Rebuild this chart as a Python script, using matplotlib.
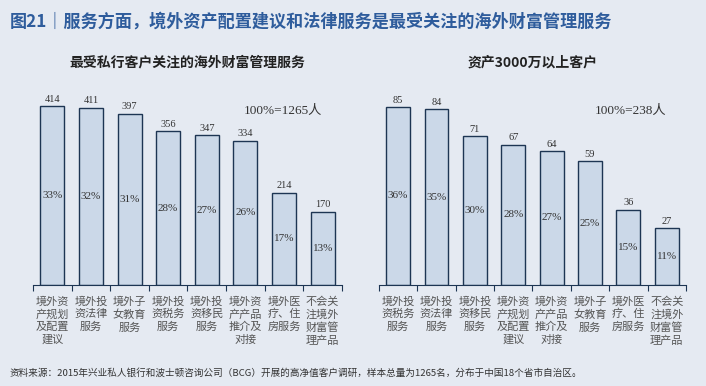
import matplotlib
matplotlib.use("agg")
import matplotlib.pyplot as plt

plt.rcParams['font.family'] = ['Noto Sans CJK SC', 'DejaVu Sans']

# data
left_cats = ["境外资产规划及配置建议", "境外投资法律服务", "境外子女教育服务", "境外投资税务服务",
             "境外投资移民服务", "境外资产产品推介及对接", "境外医疗、住房服务", "不会关注境外财富管理产品"]
left_vals = [414, 411, 397, 356, 347, 334, 214, 170]
left_pct = [33, 32, 31, 28, 27, 26, 17, 13]

right_cats = ["境外投资税务服务", "境外投资法律服务", "境外投资移民服务", "境外资产规划及配置建议",
              "境外资产产品推介及对接", "境外子女教育服务", "境外医疗、住房服务", "不会关注境外财富管理产品"]
right_vals = [85, 84, 71, 67, 64, 59, 36, 27]
right_pct = [36, 35, 30, 28, 27, 25, 15, 11]

bg = "#e5eaf2"
bar_fc = "#cbd8e8"
edge = "#1d3553"
serif = ['Liberation Serif', 'Noto Sans CJK SC']


def wrap(s, n=3):
    return "\n".join(s[i:i + n] for i in range(0, len(s), n))


def panel(ax, cats, vals, pct, ymax, sub, total):
    ax.set_facecolor(bg)
    x = list(range(len(vals)))
    ax.bar(x, vals, width=0.62, color=bar_fc, edgecolor=edge, linewidth=1.0)
    for xi, v, p in zip(x, vals, pct):
        ax.text(xi, v + ymax * 0.012, str(v), ha='center', va='bottom', fontsize=7.5,
                family=serif, color="#333333")
        ax.text(xi, v / 2, f"{p}%", ha='center', va='center', fontsize=8,
                family=serif, color="#333333")
    ax.set_xlim(-0.5, len(vals) - 0.5)
    ax.set_ylim(0, ymax)
    for s in ['top', 'right', 'left']:
        ax.spines[s].set_visible(False)
    ax.spines['bottom'].set_color(edge)
    ax.set_yticks([])
    ax.set_xticks([i - 0.5 for i in range(len(vals) + 1)])
    ax.set_xticklabels([])
    ax.tick_params(axis='x', which='major', direction='out', length=4, color=edge)
    ax.set_xticks(x, minor=True)
    ax.set_xticklabels([wrap(c) for c in cats], minor=True, fontsize=8,
                       color="#555555", linespacing=1.3, va='top')
    ax.tick_params(axis='x', which='minor', length=0, pad=8)
    ax.text(0.5, 1.135, sub, transform=ax.transAxes, ha='center', va='bottom',
            fontsize=10, fontweight='bold', color="#222222")
    ax.text(0.935, 0.915, total, transform=ax.transAxes, ha='right', va='center',
            fontsize=9.5, family=serif, color="#333333")


fig = plt.figure(figsize=(7.06, 3.86), dpi=100)
fig.patch.set_facecolor(bg)

ax1 = fig.add_axes([0.0467, 0.2617, 0.4377, 0.4922])
ax2 = fig.add_axes([0.5368, 0.2617, 0.4348, 0.4922])

panel(ax1, left_cats, left_vals, left_pct, 440, "最受私行客户关注的海外财富管理服务", "100%=1265人")
panel(ax2, right_cats, right_vals, right_pct, 90.7, "资产3000万以上客户", "100%=238人")

fig.text(0.014, 0.945, "图21｜服务方面，境外资产配置建议和法律服务是最受关注的海外财富管理服务",
         fontsize=12.3, fontweight='bold', color="#2e5c9c", va='center', ha='left')
fig.text(0.014, 0.035,
         "资料来源：2015年兴业私人银行和波士顿咨询公司（BCG）开展的高净值客户调研，样本总量为1265名，分布于中国18个省市自治区。",
         fontsize=6.9, color="#333333", va='center', ha='left')

fig.savefig("out.png", dpi=100, facecolor=bg)
